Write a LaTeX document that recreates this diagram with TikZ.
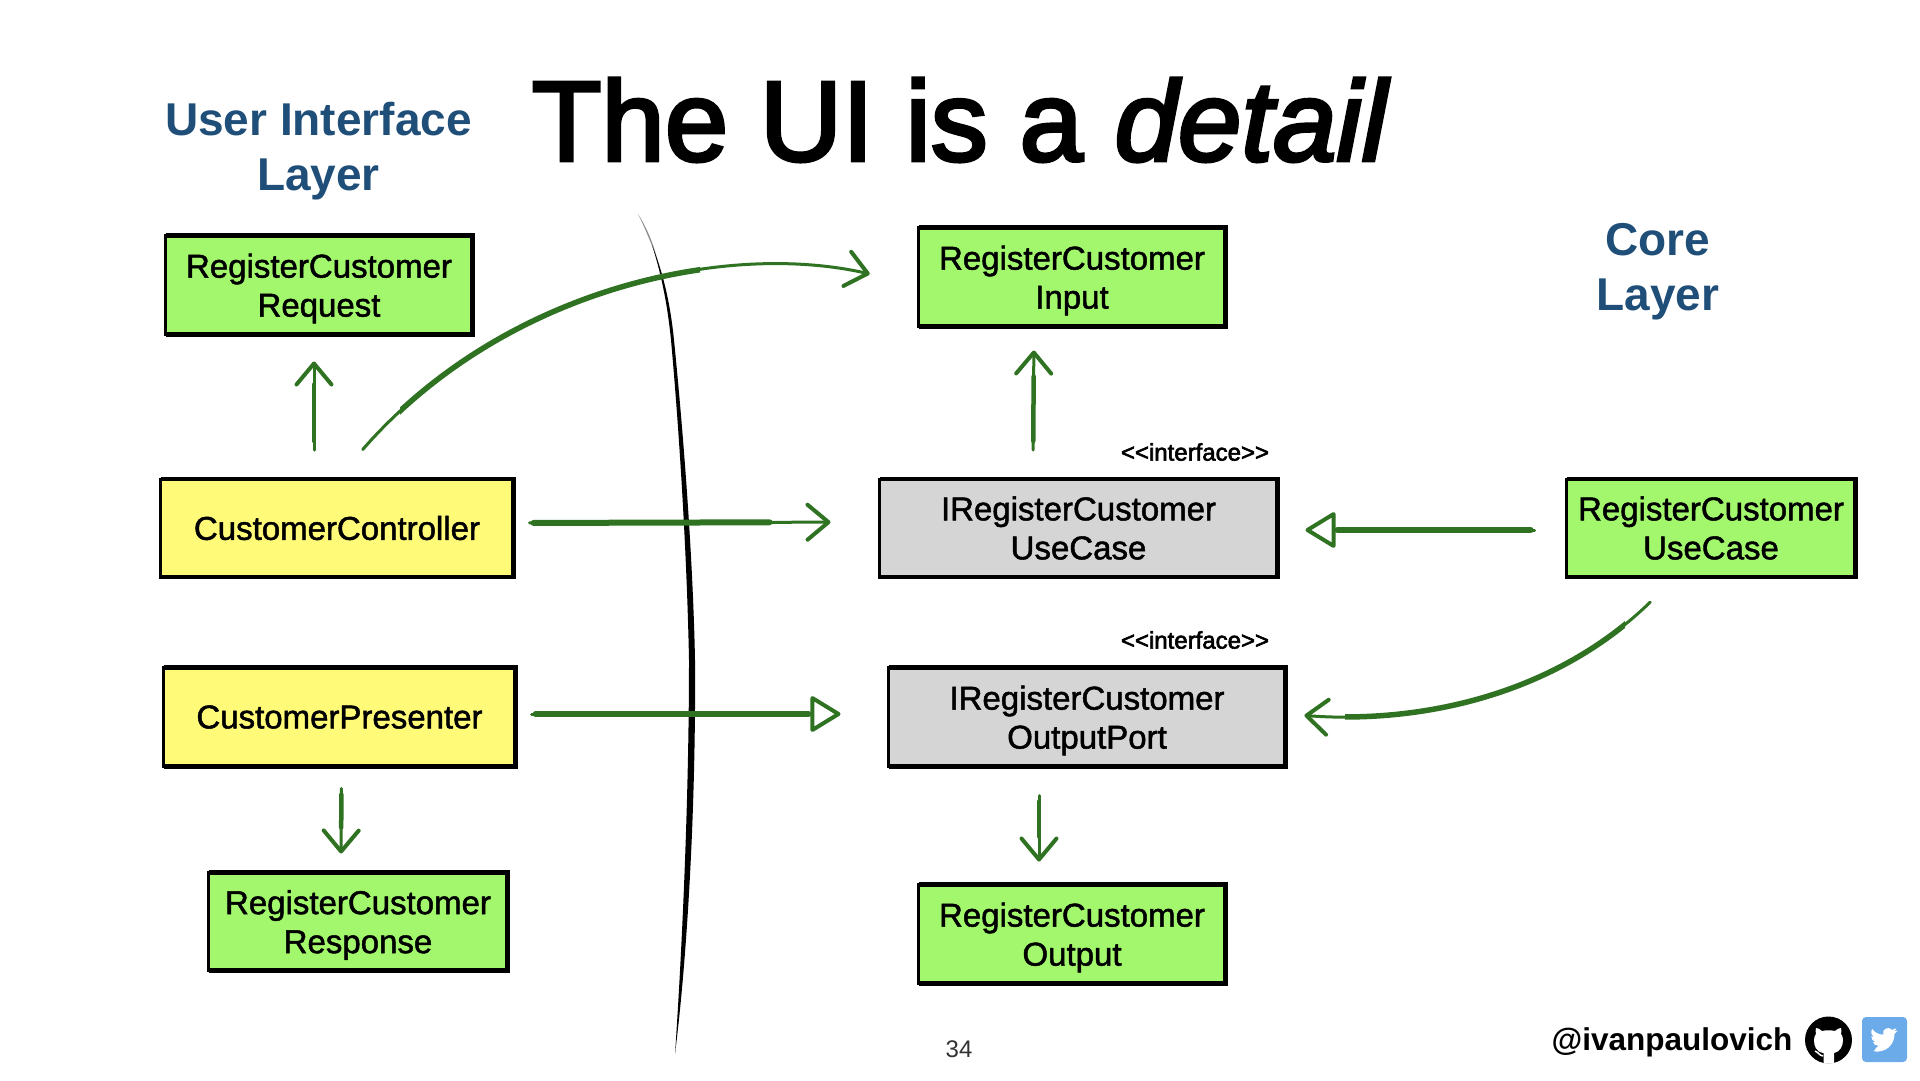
\documentclass[tikz,border=0pt]{standalone}
\usepackage{fontspec}
\setmainfont{Liberation Sans}
\font\ttlr="Liberation Sans:embolden=3" at 114pt
\font\ttli="Liberation Sans/I:embolden=3" at 114pt
\font\bxf="Liberation Sans:embolden=1.5" at 33pt
\font\stf="Liberation Sans:embolden=2.5" at 24pt
\newcommand{\lowr}{\rule{0pt}{31pt}}
\usetikzlibrary{arrows.meta,calc}
\definecolor{brush}{HTML}{2F7322}
\definecolor{lime}{HTML}{A3F76C}
\definecolor{lemon}{HTML}{FFFB78}
\definecolor{greybox}{HTML}{D5D5D5}
\definecolor{layerblue}{HTML}{1F4E79}
\definecolor{tw}{HTML}{6CABEA}
\tikzset{
  x=1pt,y=-1pt,
  box/.style={draw=black,line width=3pt,inner sep=0pt,outer sep=0pt,align=center,
    font=\fontsize{33}{39}\selectfont\bxf,text=black},
  limebox/.style={box,fill=lime},
  lemonbox/.style={box,fill=lemon},
  greyb/.style={box,fill=greybox},
  boxedge/.style={draw=black,line width=4.2pt,line cap=butt},
  layer/.style={align=center,text=layerblue,font=\bfseries\fontsize{46}{55}\selectfont},
  stereo/.style={font=\stf},
  barbtip/.style={-{Straight Barb[length=21pt,width=35pt,line width=4pt,round]}},
  hollowtip/.style={-{Triangle[open,length=32pt,width=38pt,line width=4pt,round]}},
  conn/.style={draw=brush,line width=3pt,line cap=round},
  connmid/.style={draw=brush,line width=5.5pt,line cap=round},
}
\begin{document}
\begin{tikzpicture}
\useasboundingbox (0,0) rectangle (1920,1080);
\fill[white] (0,0) rectangle (1920,1080);

% divider
\fill[black!45] (638,214) .. controls (645,228) and (652,245) .. (658,262)
  .. controls (654,245) and (647,228) .. (638,214) -- cycle;
\fill[black] (652,245) .. controls (662,270) and (670,300) .. (674,340)
  .. controls (684,440) and (693,560) .. (695,660)
  .. controls (696,800) and (688,950) .. (675,1054)
  .. controls (682,950) and (689,800) .. (689,660)
  .. controls (687,560) and (680,440) .. (671,340)
  .. controls (667,300) and (660,270) .. (652,245) -- cycle;

% title and labels
\node[anchor=center,font=\ttlr] (title) at (959.5,120)
  {The UI is a {\ttli detail}};
\node[layer] (uil) at (318.5,151) {User Interface\\Layer};
\node[layer] (core) at (1658,272) {Core\\Layer};
\node[stereo] (st1) at (1195,452) {<{}<interface>{}>};
\node[stereo] (st2) at (1195,640) {<{}<interface>{}>};
\node[font=\fontsize{24}{28}\selectfont,text=black!80] (pg) at (959,1049) {34};
\node[font=\bfseries\fontsize{31.5}{36}\selectfont,anchor=center] (handle) at (1672,1042.5) {@ivanpaulovich};

% boxes
\node[limebox,minimum width=307pt,minimum height=99pt] (req) at (319,285) {\lowr RegisterCustomer\\Request};
\node[limebox,minimum width=307pt,minimum height=99pt] (inp) at (1072,277) {\lowr RegisterCustomer\\Input};
\node[lemonbox,minimum width=353pt,minimum height=98pt] (ctl) at (337,528) {CustomerController};
\node[lemonbox,minimum width=352pt,minimum height=99pt] (prs) at (339.5,717) {CustomerPresenter};
\node[greyb,minimum width=398pt,minimum height=98pt] (iuc) at (1078.5,528) {IRegisterCustomer\\UseCase};
\node[greyb,minimum width=397pt,minimum height=99pt] (opt) at (1087,717) {\lowr IRegisterCustomer\\OutputPort};
\node[limebox,minimum width=289pt,minimum height=98pt] (ruc) at (1711,528) {RegisterCustomer\\UseCase};
\node[limebox,minimum width=299pt,minimum height=98pt] (res) at (358,921.5) {\lowr RegisterCustomer\\Response};
\node[limebox,minimum width=307pt,minimum height=99pt] (out) at (1072,934) {\lowr RegisterCustomer\\Output};
\foreach \n in {req,inp,ctl,prs,iuc,opt,ruc,res,out}{
  \draw[boxedge] (\n.north west) -- (\n.north east) -- (\n.south east) -- (\n.south west);
}

% connectors
\draw[conn,barbtip,shorten <=29pt,shorten >=27pt] ([xshift=-23pt]ctl.north) -- ([xshift=-5pt]req.south);
\draw[connmid,line width=4.5pt,shorten <=38pt,shorten >=50pt] ([xshift=-23pt]ctl.north) -- ([xshift=-5pt]req.south);

\draw[conn,barbtip,shorten <=39pt,shorten >=50pt] (ctl.north) .. controls (500,292) and (720,240) .. ([yshift=-8pt]inp.west);
\begin{scope}
\clip (400,200) rectangle (700,460);
\draw[connmid,shorten <=39pt,shorten >=50pt] (ctl.north) .. controls (500,292) and (720,240) .. ([yshift=-8pt]inp.west);
\end{scope}

\draw[conn,barbtip,shorten <=16pt,shorten >=49pt] ([yshift=5pt]ctl.east) -- ([yshift=6pt]iuc.west);
\draw[connmid,line width=6pt,shorten <=20pt,shorten >=110pt] ([yshift=5pt]ctl.east) -- ([yshift=6pt]iuc.west);

\draw[conn,barbtip,shorten <=29pt,shorten >=24pt] ([xshift=-45.5pt]iuc.north) -- ([xshift=-38pt]inp.south);
\draw[connmid,line width=4.5pt,shorten <=38pt,shorten >=50pt] ([xshift=-45.5pt]iuc.north) -- ([xshift=-38pt]inp.south);

\draw[conn,hollowtip,shorten <=32pt,shorten >=28pt] ([yshift=-2pt]ruc.west) -- ([yshift=-2pt]iuc.east);
\draw[connmid,line width=6.5pt,shorten <=36pt,shorten >=60pt] ([yshift=-2pt]ruc.west) -- ([yshift=-2pt]iuc.east);

\draw[conn,hollowtip,shorten <=16pt,shorten >=48pt] ([yshift=3pt]prs.east) -- ([yshift=3pt]opt.west);
\draw[connmid,shorten <=20pt,shorten >=80pt] ([yshift=3pt]prs.east) -- ([yshift=3pt]opt.west);

\draw[conn,barbtip,shorten <=36pt,shorten >=19pt] ([xshift=-35pt]ruc.south) .. controls (1560,690) and (1430,725) .. ([yshift=3pt]opt.east);
\begin{scope}
\clip (1345,600) rectangle (1625,760);
\draw[connmid,shorten <=36pt,shorten >=19pt] ([xshift=-35pt]ruc.south) .. controls (1560,690) and (1430,725) .. ([yshift=3pt]opt.east);
\end{scope}

\draw[conn,barbtip,shorten <=22pt,shorten >=19pt] ([xshift=2pt]prs.south) -- ([xshift=-17pt]res.north);
\draw[connmid,line width=4.5pt,shorten <=28pt,shorten >=45pt] ([xshift=2pt]prs.south) -- ([xshift=-17pt]res.north);

\draw[conn,barbtip,shorten <=29pt,shorten >=23pt] ([xshift=-48pt]opt.south) -- ([xshift=-33pt]out.north);
\draw[connmid,line width=4.5pt,shorten <=35pt,shorten >=48pt] ([xshift=-48pt]opt.south) -- ([xshift=-33pt]out.north);

% icons
\fill[black] (1828.5,1040) circle (23.5pt);
\fill[white] (1823.5,1063.5) -- (1823.5,1053) .. controls (1816,1052) and (1814,1046) .. (1814,1040)
  .. controls (1814,1037) and (1815,1035) .. (1816,1034)
  .. controls (1815.5,1032) and (1815.5,1030) .. (1816,1028)
  .. controls (1818,1028) and (1820,1029) .. (1822,1031)
  .. controls (1826,1030) and (1831,1030) .. (1835,1031)
  .. controls (1837,1029) and (1839,1028) .. (1841,1028)
  .. controls (1841.5,1030) and (1841.5,1032) .. (1841,1034)
  .. controls (1842,1035) and (1843,1037) .. (1843,1040)
  .. controls (1843,1046) and (1840,1052) .. (1834,1053)
  -- (1834,1063.5) -- cycle;
\draw[white,line width=1.5pt] (1815,1051) .. controls (1818,1052) and (1820,1056) .. (1823,1056);
\fill[tw,rounded corners=4pt] (1862,1017) rectangle (1907,1062);
\begin{scope}[shift={(1884.5,1039)},scale=.8,shift={(-1884.5,-1036.5)}]
\fill[white] (1871,1052) .. controls (1886,1054) and (1897,1044) .. (1897,1030)
  .. controls (1899,1029) and (1900,1028) .. (1901,1026)
  .. controls (1899,1027) and (1898,1027) .. (1896,1027)
  .. controls (1898,1026) and (1899,1025) .. (1899,1023)
  .. controls (1898,1024) and (1896,1024) .. (1894,1025)
  .. controls (1889,1020) and (1881,1024) .. (1883,1031)
  .. controls (1877,1031) and (1872,1028) .. (1869,1024)
  .. controls (1867,1028) and (1868,1032) .. (1871,1034)
  .. controls (1870,1034) and (1869,1034) .. (1868,1033)
  .. controls (1868,1037) and (1870,1039) .. (1873,1040)
  .. controls (1872,1041) and (1871,1041) .. (1870,1040)
  .. controls (1871,1043) and (1873,1045) .. (1877,1045)
  .. controls (1875,1047) and (1873,1048) .. (1871,1052) -- cycle;
\end{scope}
\end{tikzpicture}
\end{document}
